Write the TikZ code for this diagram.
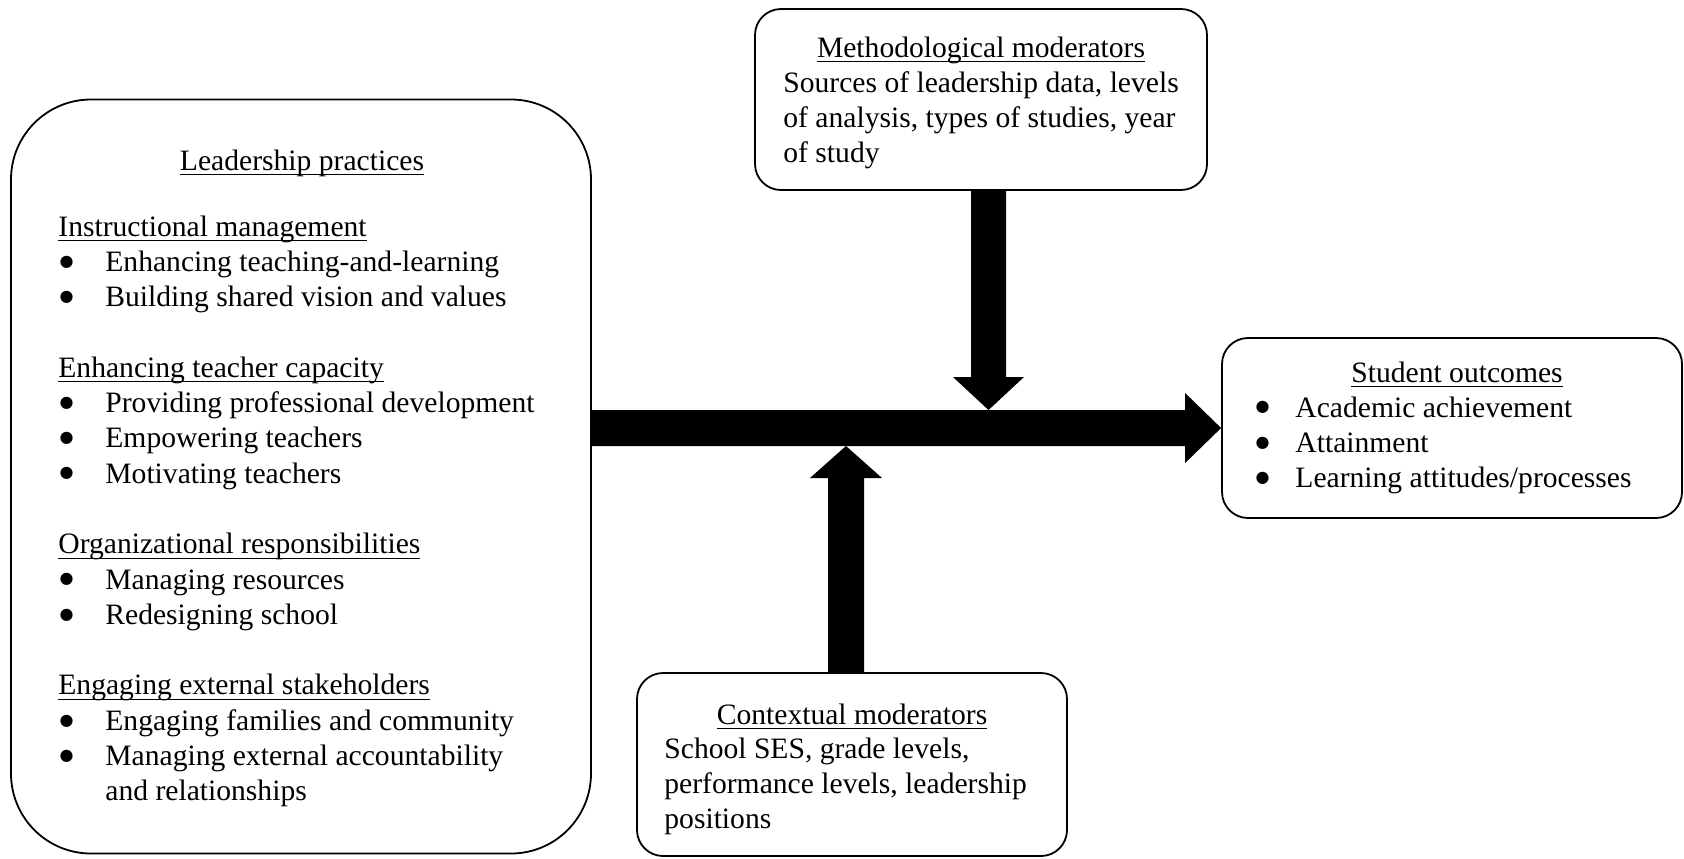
\documentclass[tikz,border=0pt]{standalone}
\usepackage{fontspec}
\setmainfont{Liberation Serif}
\newfontfamily\symfont{DejaVu Sans}
\usetikzlibrary{calc}
\newcommand{\fsz}{\fontsize{14.8pt}{17.65pt}\selectfont}
\newcommand{\myul}[1]{\setbox0\hbox{#1}\rlap{\rule[-2.6pt]{\wd0}{0.7pt}}\box0}
\newcommand{\bigbul}{\raisebox{2.6pt}{\fontsize{8pt}{8pt}\symfont ●}}
\newcommand{\bl}{\makebox[23.5pt][l]{\hspace{0.6pt}\bigbul}}
\newcommand{\blb}{\makebox[20.5pt][l]{\hspace{0.6pt}\bigbul}}
\begin{document}
\begin{tikzpicture}[x=0.5pt,y=-0.5pt,
  box/.style={draw, line width=0.9pt, rounded corners=13pt, inner sep=0pt},
  txt/.style={inner sep=0pt, anchor=base west, font=\fsz},
  ttl/.style={inner sep=0pt, anchor=base, font=\fsz},
  bigarrow/.style={fill=black, draw=none}]
\useasboundingbox (0,0) rectangle (1684,858);

% boxes
\node[box, rounded corners=40pt, minimum width=290pt, minimum height=377pt] (lead) at (301,476.5) {};
\node[box, minimum width=226pt, minimum height=90.5pt] (meth) at (981,99.5) {};
\node[box, minimum width=230pt, minimum height=90pt] (out) at (1452,428) {};
\node[box, minimum width=215pt, minimum height=91.5pt] (ctx) at (852,764.5) {};

% texts: leadership practices
\node[ttl] (leadt) at (302,170) {\myul{Leadership practices}};
\node[txt] (leadl) at (58,236) {\begin{tabular}[t]{@{}l@{}}
\myul{Instructional management}\\
\bl Enhancing teaching-and-learning\\
\bl Building shared vision and values\\
\\
\myul{Enhancing teacher capacity}\\
\bl Providing professional development\\
\bl Empowering teachers\\
\bl Motivating teachers\\
\\
\myul{Organizational responsibilities}\\
\bl Managing resources\\
\bl Redesigning school\\
\\
\myul{Engaging external stakeholders}\\
\bl Engaging families and community\\
\bl Managing external accountability\\
\hspace*{23.5pt}and relationships
\end{tabular}};

% methodological moderators
\node[ttl] (metht) at (981,57) {\myul{Methodological moderators}};
\node[txt] (methl) at (783,92) {\begin{tabular}[t]{@{}l@{}}
Sources of leadership data, levels\\
of analysis, types of studies, year\\
of study
\end{tabular}};

% student outcomes
\node[ttl] (outt) at (1457,382) {\myul{Student outcomes}};
\node[txt] (outl) at (1254,417) {\begin{tabular}[t]{@{}l@{}}
\blb Academic achievement\\
\blb Attainment\\
\blb Learning attitudes/processes
\end{tabular}};

% contextual moderators
\node[ttl] (ctxt) at (852,724) {\myul{Contextual moderators}};
\node[txt] (ctxl) at (664,758) {\begin{tabular}[t]{@{}l@{}}
School SES, grade levels,\\
performance levels, leadership\\
positions
\end{tabular}};

% arrows
\coordinate (dtip) at (988.5,410);
\coordinate (utip) at (846,446);
\fill[bigarrow] ($(lead.east |- out.west)+(0,-18)$) -- ($(out.west)+(-36,-18)$) -- ($(out.west)+(-36,-35)$) -- (out.west) -- ($(out.west)+(-36,35)$) -- ($(out.west)+(-36,18)$) -- ($(lead.east |- out.west)+(0,18)$) -- cycle;
\fill[bigarrow] ($(dtip |- meth.south)+(-17.5,0)$) -- ($(dtip)+(-17.5,-33)$) -- ($(dtip)+(-35.5,-33)$) -- (dtip) -- ($(dtip)+(35.5,-33)$) -- ($(dtip)+(17.5,-33)$) -- ($(dtip |- meth.south)+(17.5,0)$) -- cycle;
\fill[bigarrow] ($(utip |- ctx.north)+(-18,0)$) -- ($(utip)+(-18,32)$) -- ($(utip)+(-36,32)$) -- (utip) -- ($(utip)+(36,32)$) -- ($(utip)+(18,32)$) -- ($(utip |- ctx.north)+(18,0)$) -- cycle;
\end{tikzpicture}
\end{document}
